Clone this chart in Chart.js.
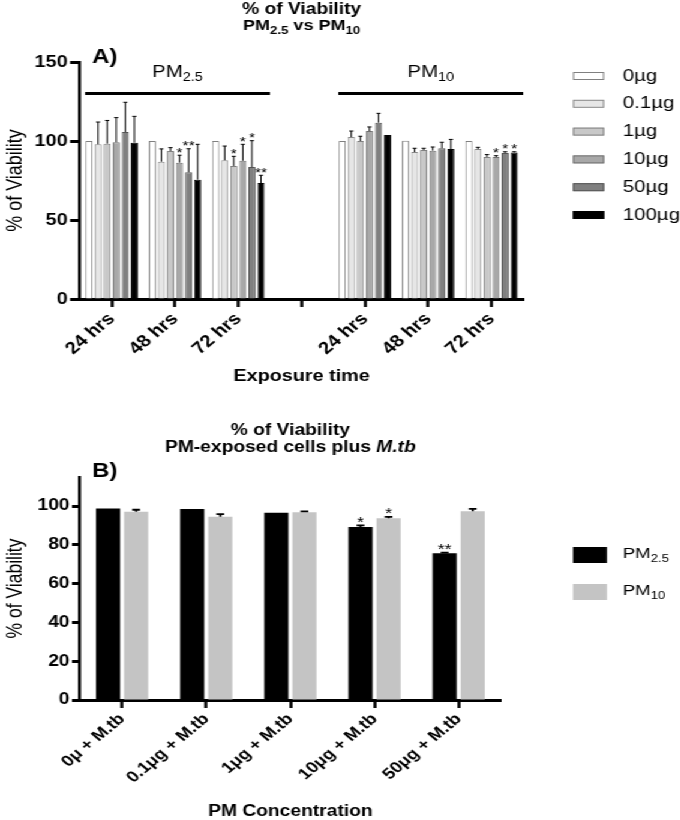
<!DOCTYPE html>
<html>
<head>
<meta charset="utf-8">
<script src="https://cdn.jsdelivr.net/npm/chart.js@4"></script>
<style>
  body { margin: 0; background: #fff; overflow: hidden; }
  /* the reference figure is stretched sideways, so the whole drawing is too */
  .wrap { position: relative; width: 567px; height: 820px; transform: scaleX(1.2); transform-origin: 0 0; }
  #chartA { position: absolute; left: 0; top: 0; }
  #chartB { position: absolute; left: 0; top: 400px; }
</style>
</head>
<body>
<div class="wrap">
  <canvas id="chartA" width="567" height="400"></canvas>
  <canvas id="chartB" width="567" height="420"></canvas>
</div>
<script>
const FONT = 'Arial, "Liberation Sans", sans-serif';
Chart.defaults.font.family = FONT;
Chart.defaults.color = "#000";

// ---- chart A data ----
const timeLabels = ["24 hrs", "48 hrs", "72 hrs", "", "24 hrs", "48 hrs", "72 hrs"];
const doseLabels = ["0µg", "0.1µg", "1µg", "10µg", "50µg", "100µg"];
const doseColors = ["#ffffff", "#e6e6e6", "#c8c8c8", "#a8a8a8", "#808080", "#000000"];
const doseBorders = ["#808080", "#8a8a8a", "#808080", "#707070", "#555555", "#000000"];

const viab0 = [100, 100, 100, null, 100, 100.2, 100];
const viab01 = [97.9, 86.9, 87.8, null, 102.5, 93, 94.9];
const viab1 = [98.3, 93.7, 84.2, null, 100, 94.3, 89.9];
const viab10 = [99.2, 86.3, 87.5, null, 106.3, 93.9, 89.9];
const viab50 = [105.7, 80.2, 83.5, null, 111.6, 95.4, 92.4];
const viab100 = [98.9, 75.5, 73.4, null, 103.8, 94.9, 92.8];

const err0 = [0, 0, 0, null, 0, 0, 0];
const err01 = [14.1, 8.1, 9, null, 3.8, 2.4, 1.1];
const err1 = [14.7, 2.1, 6.1, null, 3, 1.1, 1.5];
const err10 = [15.6, 4.7, 10.4, null, 2.6, 2.3, 0.8];
const err50 = [18.8, 14.9, 16.7, null, 5.9, 3.8, 0.8];
const err100 = [16.7, 22.4, 4.9, null, 0, 6.1, 0.4];

const star0 = ["", "", "", "", "", "", ""];
const star01 = ["", "", "", "", "", "", ""];
const star1 = ["", "", "*", "", "", "", ""];
const star10 = ["", "*", "*", "", "", "", "*"];
const star50 = ["", "**", "*", "", "", "", "*"];
const star100 = ["", "", "**", "", "", "", "*"];

const yTicksA = [0, 50, 100, 150];
const bracketLevel = 130;

// ---- chart B data ----
const concLabels = ["0μ + M.tb", "0.1μg + M.tb", "1μg + M.tb", "10μg + M.tb", "50μg + M.tb"];
const pm25Values = [98.8, 98.5, 96.6, 89.2, 75.7];
const pm10Values = [97.1, 94.5, 96.8, 93.7, 97.4];
const pm25Err = [0, 0, 0, 0.9, 0.3];
const pm10Err = [1.0, 1.4, 0.5, 0.7, 1.2];
const pm25Stars = ["", "", "", "*", "**"];
const pm10Stars = ["", "", "", "*", ""];
const yTicksB = [0, 20, 40, 60, 80, 100];

const allValues = [viab0, viab01, viab1, viab10, viab50, viab100];
const allErrors = [err0, err01, err1, err10, err50, err100];
const allStars = [star0, star01, star1, star10, star50, star100];

const drawRich = (ctx, parts, x, y, size, weight, align) => {
  const fontFor = (p) =>
    (p.it ? "italic " : "") + weight + " " + (p.sub ? Math.round(size * 0.7) : size) + "px " + FONT;
  let w = 0;
  parts.forEach((p) => {
    ctx.font = fontFor(p);
    w += ctx.measureText(p.t).width;
  });
  let cx = align === "left" ? x : x - w / 2;
  ctx.textAlign = "left";
  ctx.textBaseline = "middle";
  parts.forEach((p) => {
    ctx.font = fontFor(p);
    ctx.fillText(p.t, cx, p.sub ? y + size * 0.32 : y);
    cx += ctx.measureText(p.t).width;
  });
};

const drawErrors = (chart, errors, stars, capW, lineW, starSize) => {
  const { ctx } = chart;
  const y = chart.scales.y;
  ctx.save();
  ctx.strokeStyle = "#000";
  ctx.fillStyle = "#000";
  ctx.lineWidth = lineW;
  chart.data.datasets.forEach((ds, di) => {
    chart.getDatasetMeta(di).data.forEach((bar, i) => {
      const v = ds.data[i];
      if (v == null) return;
      const e = errors[di][i] || 0;
      const top = y.getPixelForValue(v + e);
      if (e > 0) {
        ctx.beginPath();
        ctx.moveTo(bar.x, bar.y);
        ctx.lineTo(bar.x, top);
        ctx.moveTo(bar.x - capW / 2, top);
        ctx.lineTo(bar.x + capW / 2, top);
        ctx.stroke();
      }
      const s = stars[di][i];
      if (s) {
        ctx.font = starSize + "px " + FONT;
        ctx.textAlign = "center";
        ctx.textBaseline = "alphabetic";
        ctx.fillText(s, bar.x, top + starSize * 0.1);
      }
    });
  });
  ctx.restore();
};

const pluginA = {
  id: "extrasA",
  afterDatasetsDraw(chart) {
    drawErrors(chart, allErrors, allStars, 3.5, 1, 13);
  },
  afterDraw(chart) {
    const { ctx, chartArea } = chart;
    const x = chart.scales.x;
    const y = chart.scales.y;
    const step = x.getPixelForValue(1) - x.getPixelForValue(0);
    ctx.save();
    ctx.fillStyle = "#000";
    const cx = (chartArea.left + chartArea.right) / 2;
    drawRich(ctx, [{ t: "% of Viability" }], cx, 10, 16, "bold");
    drawRich(ctx, [{ t: "PM" }, { t: "2.5", sub: true }, { t: " vs PM" }, { t: "10", sub: true }], cx, 26, 15, "bold");
    drawRich(ctx, [{ t: "A)" }], chartArea.left + 10, chartArea.top - 5, 20, "bold", "left");

    // group brackets
    const groups = [
      { parts: [{ t: "PM" }, { t: "2.5", sub: true }], from: 0, to: 2 },
      { parts: [{ t: "PM" }, { t: "10", sub: true }], from: 4, to: 6 },
    ];
    const ly = y.getPixelForValue(bracketLevel);
    ctx.strokeStyle = "#000";
    ctx.lineWidth = 3;
    groups.forEach((g) => {
      const x0 = x.getPixelForValue(g.from) - step * 0.42;
      const x1 = x.getPixelForValue(g.to) + step * 0.5;
      ctx.beginPath();
      ctx.moveTo(x0, ly);
      ctx.lineTo(x1, ly);
      ctx.stroke();
      drawRich(ctx, g.parts, (x0 + x1) / 2, ly - 21, 17, "normal");
    });

    // legend
    ctx.lineWidth = 1;
    doseLabels.forEach((lab, i) => {
      const ry = 76 + i * 27.8;
      ctx.fillStyle = doseColors[i];
      ctx.fillRect(477.5, ry - 4, 26, 8);
      ctx.strokeStyle = doseBorders[i];
      ctx.strokeRect(478, ry - 3.5, 25, 7);
      ctx.fillStyle = "#000";
      drawRich(ctx, [{ t: lab }], 519, ry, 17, "normal", "left");
    });
    ctx.restore();
  },
};

const pluginB = {
  id: "extrasB",
  afterDatasetsDraw(chart) {
    drawErrors(chart, [pm25Err, pm10Err], [pm25Stars, pm10Stars], 6.5, 1.8, 15);
  },
  afterDraw(chart) {
    const { ctx, chartArea } = chart;
    ctx.save();
    ctx.fillStyle = "#000";
    const cx = (chartArea.left + chartArea.right) / 2;
    drawRich(ctx, [{ t: "% of Viability" }], cx, 31, 16, "bold");
    drawRich(ctx, [{ t: "PM-exposed cells plus " }, { t: "M.tb", it: true }], cx, 48, 16, "bold");
    drawRich(ctx, [{ t: "B)" }], chartArea.left + 10, chartArea.top - 6, 20, "bold", "left");

    const leg = [
      { parts: [{ t: "PM" }, { t: "2.5", sub: true }], color: "#000000", y: 155 },
      { parts: [{ t: "PM" }, { t: "10", sub: true }], color: "#c4c4c4", y: 192 },
    ];
    leg.forEach((l) => {
      ctx.fillStyle = l.color;
      ctx.fillRect(477.5, l.y - 8, 28.3, 16);
      ctx.fillStyle = "#000";
      drawRich(ctx, l.parts, 519, l.y - 1, 15.5, "normal", "left");
    });
    ctx.restore();
  },
};

const axisGrid = (len, w) => ({
  offset: false,
  drawOnChartArea: false,
  drawTicks: true,
  tickLength: len,
  tickWidth: w,
  tickColor: "#000",
});

const chartA = new Chart(document.getElementById("chartA"), {
  type: "bar",
  data: {
    labels: timeLabels,
    datasets: doseLabels.map((lab, i) => ({
      label: lab,
      data: allValues[i],
      backgroundColor: doseColors[i],
      borderColor: doseBorders[i],
      borderWidth: 1,
      categoryPercentage: 0.86,
      barPercentage: 0.78,
    })),
  },
  options: {
    responsive: false,
    animation: false,
    layout: { padding: { top: 62, right: 131, left: 0, bottom: 0 } },
    plugins: { legend: { display: false }, title: { display: false }, tooltip: { enabled: false } },
    scales: {
      x: {
        ticks: { font: { size: 17, weight: "bold" }, color: "#000", minRotation: 45, maxRotation: 45, autoSkip: false, padding: 2 },
        grid: axisGrid(8, 2.5),
        border: { color: "#000", width: 3 },
        title: { display: true, text: "Exposure time", font: { size: 16.5, weight: "bold" }, color: "#000", padding: { top: 0, bottom: 14 } },
        afterFit: (s) => { s.height = 101; },
      },
      y: {
        min: 0,
        max: 150,
        afterBuildTicks: (s) => { s.ticks = yTicksA.map((v) => ({ value: v })); },
        ticks: { font: { size: 16.5, weight: "bold" }, color: "#000", padding: 2 },
        grid: axisGrid(8.3, 3),
        border: { color: "#000", width: 2.5 },
        title: { display: true, text: "% of Viability", font: { size: 18 }, color: "#000", padding: { top: 2.5, bottom: 0 } },
        afterFit: (s) => { s.width = 66.7; },
      },
    },
  },
  plugins: [pluginA],
});

const chartB = new Chart(document.getElementById("chartB"), {
  type: "bar",
  data: {
    labels: concLabels,
    datasets: [
      { label: "PM2.5", data: pm25Values, backgroundColor: "#000000", borderWidth: 0, categoryPercentage: 0.667, barPercentage: 0.86 },
      { label: "PM10", data: pm10Values, backgroundColor: "#c4c4c4", borderWidth: 0, categoryPercentage: 0.667, barPercentage: 0.86 },
    ],
  },
  options: {
    responsive: false,
    animation: false,
    layout: { padding: { top: 77, right: 149.7, left: 0, bottom: 0 } },
    plugins: { legend: { display: false }, title: { display: false }, tooltip: { enabled: false } },
    scales: {
      x: {
        ticks: { font: { size: 15.5, weight: "bold" }, color: "#000", minRotation: 45, maxRotation: 45, autoSkip: false, padding: 2 },
        grid: axisGrid(8, 2.5),
        border: { color: "#000", width: 3 },
        title: { display: true, text: "PM Concentration", font: { size: 16, weight: "bold", lineHeight: 1 }, color: "#000", padding: { top: 0, bottom: 0 } },
        afterFit: (s) => { s.height = 120; },
      },
      y: {
        min: 0,
        max: 115,
        afterBuildTicks: (s) => { s.ticks = yTicksB.map((v) => ({ value: v })); },
        ticks: { font: { size: 16, weight: "bold" }, color: "#000", padding: 2 },
        grid: axisGrid(6.7, 3),
        border: { color: "#000", width: 2.5 },
        title: { display: true, text: "% of Viability", font: { size: 17.5 }, color: "#000", padding: { top: 2.5, bottom: 0 } },
        afterFit: (s) => { s.width = 66.7; },
      },
    },
  },
  plugins: [pluginB],
});
</script>
</body>
</html>
